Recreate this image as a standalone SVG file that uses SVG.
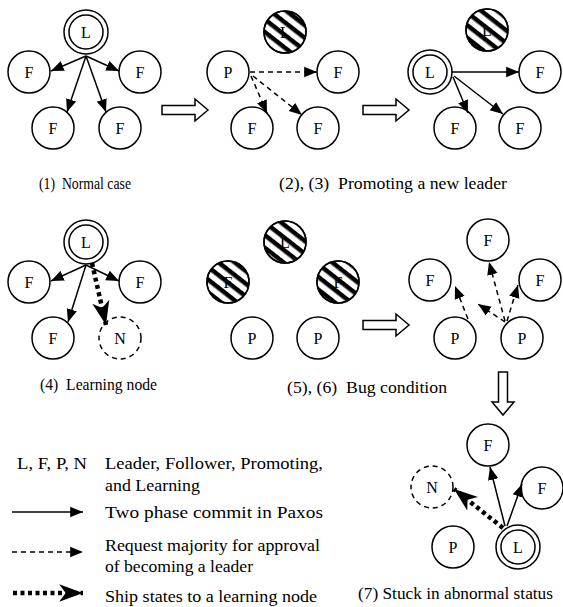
<svg xmlns="http://www.w3.org/2000/svg" width="563" height="607" viewBox="0 0 563 607" font-family="'Liberation Serif', 'Times New Roman', 'DejaVu Serif', serif">
<style>
text{font-family:'Liberation Serif','Times New Roman','DejaVu Serif',serif;font-size:16.5px;fill:#000;white-space:pre}
.n circle{fill:#fff;stroke:#000;stroke-width:1.5}
.n text{text-anchor:middle;font-size:16px}
.dn circle{stroke-dasharray:5,4}
.h .hatch{fill:url(#hatch)}
.sol{stroke:#000;stroke-width:1.5;fill:none;marker-end:url(#tri)}
.das{stroke:#000;stroke-width:1.5;fill:none;stroke-dasharray:5,4;marker-end:url(#tri)}
.dot{stroke:#000;stroke-width:4.5;fill:none;stroke-dasharray:4,3.5;marker-end:url(#stealth)}
.hol{fill:#fff;stroke:#000;stroke-width:1.5}
</style>
<defs>
<pattern id="hatch" patternUnits="userSpaceOnUse" width="10" height="10" patternTransform="rotate(38)">
<rect x="0" y="0" width="10" height="4.5" fill="#000"/>
</pattern>
<marker id="tri" markerUnits="userSpaceOnUse" markerWidth="14" markerHeight="12" refX="11" refY="5" orient="auto" viewBox="0 0 12 10">
<path d="M0,0.5 L11,5 L0,9.5 Z" fill="#000"/>
</marker>
<marker id="stealth" markerUnits="userSpaceOnUse" markerWidth="26" markerHeight="20" refX="22" refY="9" orient="auto" viewBox="0 0 24 18">
<path d="M0,1 L22,9 L0,17 L6,9 Z" fill="#000"/>
</marker>
</defs>

<!-- Panel 1 -->
<g id="p1-L" class="n"><circle cx="86" cy="32" r="22"/><circle cx="86" cy="32" r="17"/><text x="86" y="38">L</text></g>
<g id="p1-F1" class="n"><circle cx="29" cy="72" r="21"/><text x="29" y="78">F</text></g>
<g id="p1-F2" class="n"><circle cx="140" cy="72" r="21"/><text x="140" y="78">F</text></g>
<g id="p1-F3" class="n"><circle cx="53" cy="128" r="21"/><text x="53" y="134">F</text></g>
<g id="p1-F4" class="n"><circle cx="120" cy="128" r="21"/><text x="120" y="134">F</text></g>

<!-- Panel 2 -->
<g id="p2-X" class="n h"><circle cx="285" cy="32" r="21"/><text x="285" y="38">L</text><circle class="hatch" cx="285" cy="32" r="21"/></g>
<g id="p2-P" class="n"><circle cx="228" cy="72" r="21"/><text x="228" y="78">P</text></g>
<g id="p2-F1" class="n"><circle cx="338" cy="72" r="21"/><text x="338" y="78">F</text></g>
<g id="p2-F2" class="n"><circle cx="252" cy="128" r="21"/><text x="252" y="134">F</text></g>
<g id="p2-F3" class="n"><circle cx="318" cy="128" r="21"/><text x="318" y="134">F</text></g>

<!-- Panel 3 -->
<g id="p3-X" class="n h"><circle cx="487" cy="30" r="21"/><text x="487" y="36">L</text><circle class="hatch" cx="487" cy="30" r="21"/></g>
<g id="p3-L" class="n"><circle cx="430" cy="72" r="22"/><circle cx="430" cy="72" r="17"/><text x="430" y="78">L</text></g>
<g id="p3-F1" class="n"><circle cx="540" cy="72" r="21"/><text x="540" y="78">F</text></g>
<g id="p3-F2" class="n"><circle cx="455" cy="128" r="21"/><text x="455" y="134">F</text></g>
<g id="p3-F3" class="n"><circle cx="520" cy="128" r="21"/><text x="520" y="134">F</text></g>

<!-- Panel 4 -->
<g id="p4-L" class="n"><circle cx="86" cy="242" r="22"/><circle cx="86" cy="242" r="17"/><text x="86" y="248">L</text></g>
<g id="p4-F1" class="n"><circle cx="29" cy="282" r="21"/><text x="29" y="288">F</text></g>
<g id="p4-F2" class="n"><circle cx="140" cy="282" r="21"/><text x="140" y="288">F</text></g>
<g id="p4-F3" class="n"><circle cx="53" cy="338" r="21"/><text x="53" y="344">F</text></g>
<g id="p4-N" class="n dn"><circle cx="120" cy="338" r="21"/><text x="120" y="344">N</text></g>

<!-- Panel 5 -->
<g id="p5-X1" class="n h"><circle cx="285" cy="242" r="21"/><text x="285" y="248">L</text><circle class="hatch" cx="285" cy="242" r="21"/></g>
<g id="p5-X2" class="n h"><circle cx="228" cy="282" r="21"/><text x="228" y="288">F</text><circle class="hatch" cx="228" cy="282" r="21"/></g>
<g id="p5-X3" class="n h"><circle cx="338" cy="282" r="21"/><text x="338" y="288">F</text><circle class="hatch" cx="338" cy="282" r="21"/></g>
<g id="p5-P1" class="n"><circle cx="252" cy="338" r="21"/><text x="252" y="344">P</text></g>
<g id="p5-P2" class="n"><circle cx="318" cy="338" r="21"/><text x="318" y="344">P</text></g>

<!-- Panel 6 -->
<g id="p6-F1" class="n"><circle cx="488" cy="240" r="21"/><text x="488" y="246">F</text></g>
<g id="p6-F2" class="n"><circle cx="430" cy="280" r="21"/><text x="430" y="286">F</text></g>
<g id="p6-F3" class="n"><circle cx="540" cy="280" r="21"/><text x="540" y="286">F</text></g>
<g id="p6-P1" class="n"><circle cx="455" cy="338" r="21"/><text x="455" y="344">P</text></g>
<g id="p6-P2" class="n"><circle cx="522" cy="338" r="21"/><text x="522" y="344">P</text></g>

<!-- Panel 7 -->
<g id="p7-F1" class="n"><circle cx="488" cy="445" r="21"/><text x="488" y="451">F</text></g>
<g id="p7-F2" class="n"><circle cx="542" cy="488" r="21"/><text x="542" y="494">F</text></g>
<g id="p7-N" class="n dn"><circle cx="432" cy="487" r="21"/><text x="432" y="493">N</text></g>
<g id="p7-P" class="n"><circle cx="453" cy="547" r="21"/><text x="453" y="553">P</text></g>
<g id="p7-L" class="n"><circle cx="518" cy="547" r="22"/><circle cx="518" cy="547" r="17"/><text x="518" y="553">L</text></g>

<g id="connectors">
<line class="sol" x1="86" y1="56" x2="51" y2="71"/>
<line class="sol" x1="86" y1="56" x2="119" y2="71"/>
<line class="sol" x1="86" y1="56" x2="67" y2="112"/>
<line class="sol" x1="86" y1="56" x2="106" y2="112"/>
<line class="das" x1="250" y1="72" x2="317" y2="72"/>
<line class="das" x1="251" y1="76" x2="267" y2="113"/>
<line class="das" x1="253" y1="76" x2="302" y2="115"/>
<line class="sol" x1="452" y1="72" x2="519" y2="72"/>
<line class="sol" x1="453" y1="77" x2="468" y2="113"/>
<line class="sol" x1="454" y1="76" x2="503" y2="114"/>
<line class="sol" x1="86" y1="265" x2="51" y2="281"/>
<line class="sol" x1="86" y1="265" x2="119" y2="281"/>
<line class="sol" x1="86" y1="265" x2="68" y2="322"/>
<line class="dot" x1="92" y1="263" x2="106" y2="325"/>
<line class="das" x1="468" y1="319" x2="455" y2="286"/>
<line class="das" x1="505" y1="321" x2="489" y2="262"/>
<line class="das" x1="507" y1="321" x2="518" y2="285"/>
<line class="das" x1="505" y1="322" x2="478" y2="304"/>
<line class="sol" x1="505" y1="526" x2="490" y2="467"/>
<line class="sol" x1="507" y1="526" x2="522" y2="484"/>
<line class="dot" x1="503" y1="528" x2="454" y2="489"/>
<path class="hol" d="M162,105.5 H195 V99 L208,110 L195,121 V114.5 H162 Z"/>
<path class="hol" d="M363,105.5 H396 V99 L409,110 L396,121 V114.5 H363 Z"/>
<path class="hol" d="M363,320.5 H396 V314 L409,325 L396,336 V329.5 H363 Z"/>
<path class="hol" d="M498.5,372 V402 H492 L503,415 L514,402 H507.5 V372 Z"/>
<line class="sol" x1="12" y1="512" x2="83" y2="512"/>
<line class="das" x1="12" y1="552" x2="83" y2="552"/>
<line class="dot" x1="13" y1="593" x2="83" y2="593"/>
</g>

<g id="captions">
<text x="39" y="189" textLength="92" lengthAdjust="spacingAndGlyphs">(1)  Normal case</text>
<text x="279" y="189" textLength="228" lengthAdjust="spacingAndGlyphs">(2), (3)  Promoting a new leader</text>
<text x="40" y="390" textLength="117" lengthAdjust="spacingAndGlyphs">(4)  Learning node</text>
<text x="287" y="393" textLength="160" lengthAdjust="spacingAndGlyphs">(5), (6)  Bug condition</text>
<text x="358" y="599" textLength="195" lengthAdjust="spacingAndGlyphs">(7) Stuck in abnormal status</text>
</g>

<g id="legend">
<text x="17" y="469" textLength="70" lengthAdjust="spacingAndGlyphs">L, F, P, N</text>
<text x="105" y="469" textLength="218" lengthAdjust="spacingAndGlyphs">Leader, Follower, Promoting,</text>
<text x="105" y="491" textLength="95" lengthAdjust="spacingAndGlyphs">and Learning</text>
<text x="105" y="518" textLength="218" lengthAdjust="spacingAndGlyphs">Two phase commit in Paxos</text>
<text x="105" y="551" textLength="215" lengthAdjust="spacingAndGlyphs">Request majority for approval</text>
<text x="105" y="572" textLength="148" lengthAdjust="spacingAndGlyphs">of becoming a leader</text>
<text x="105" y="602" textLength="212" lengthAdjust="spacingAndGlyphs">Ship states to a learning node</text>
</g>
</svg>
